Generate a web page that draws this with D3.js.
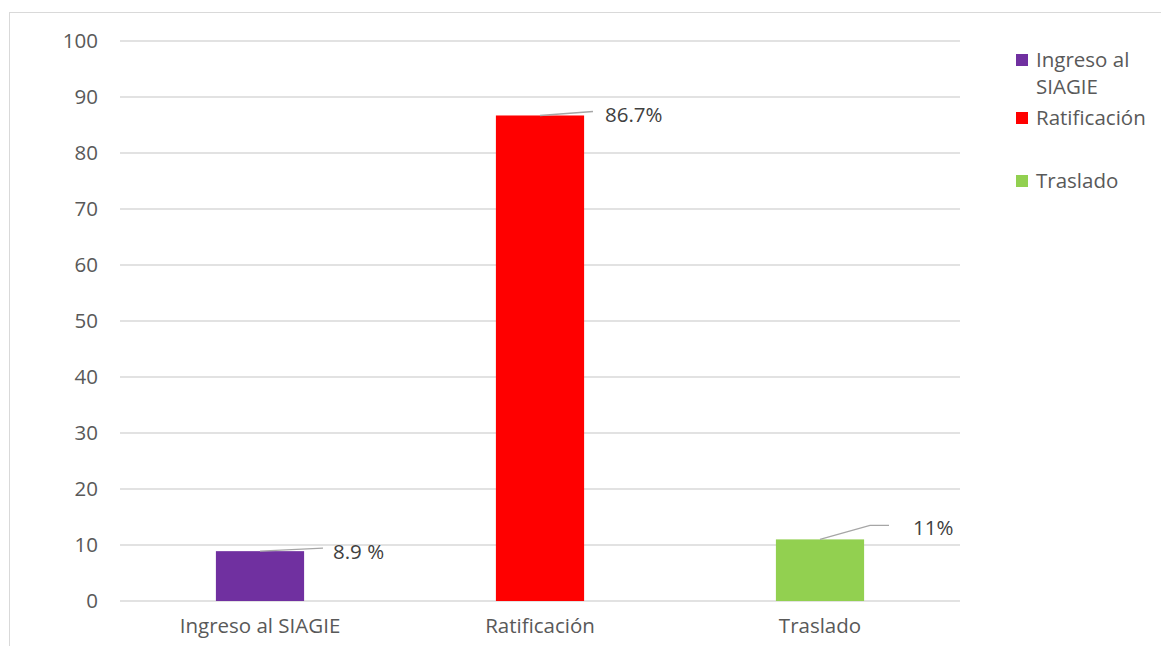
<!DOCTYPE html>
<html>
<head>
<meta charset="utf-8">
<script src="https://cdn.jsdelivr.net/npm/d3@7"></script>
<style>
  body { margin: 0; background: #fff; }
  text { font-family: "Open Sans", sans-serif; fill: #595959; }
</style>
</head>
<body>
<div id="chart"></div>
<script>

// chart data
var categories = ["Ingreso al SIAGIE", "Ratificación", "Traslado"];
var values = [8.9, 86.7, 11];
var labels = ["8.9 %", "86.7%", "11%"];
var colors = ["#7030a0", "#ff0000", "#92d050"];
var yTicks = [0, 10, 20, 30, 40, 50, 60, 70, 80, 90, 100];
var legendLines = [["Ingreso al", "SIAGIE"], ["Ratificación"], ["Traslado"]];

var W = 1161, H = 646;
var margin = {top: 41, left: 120, right: 201, bottom: 45};
var fs = "20.5px";

var svg = d3.select("#chart").append("svg")
  .attr("width", W)
  .attr("height", H);

// outer chart border (cropped at right and bottom)
svg.append("rect")
  .attr("x", 9.5).attr("y", 12.5)
  .attr("width", W + 10).attr("height", H + 10)
  .attr("fill", "none")
  .attr("stroke", "#d9d9d9");

var x = d3.scaleBand()
  .domain(categories)
  .range([margin.left, W - margin.right])
  .paddingInner(0.685)
  .paddingOuter(0.3425);

var y = d3.scaleLinear()
  .domain([0, 100])
  .range([601, margin.top]);

// gridlines
svg.append("g").selectAll("line")
  .data(yTicks)
  .enter().append("line")
  .attr("x1", margin.left).attr("x2", W - margin.right)
  .attr("y1", function(d) { return y(d); })
  .attr("y2", function(d) { return y(d); })
  .attr("stroke", "#d9d9d9")
  .attr("stroke-width", 1.3);

// y tick labels
svg.append("g").selectAll("text")
  .data(yTicks)
  .enter().append("text")
  .attr("x", 98)
  .attr("y", function(d) { return y(d); })
  .attr("dy", "0.35em")
  .attr("text-anchor", "end")
  .style("font-size", fs)
  .text(function(d) { return d; });

// bars
svg.append("g").selectAll("rect")
  .data(values)
  .enter().append("rect")
  .attr("x", function(d, i) { return x(categories[i]); })
  .attr("width", x.bandwidth())
  .attr("y", function(d) { return y(d); })
  .attr("height", function(d) { return y(0) - y(d); })
  .attr("fill", function(d, i) { return colors[i]; });

// x labels
svg.append("g").selectAll("text")
  .data(categories)
  .enter().append("text")
  .attr("x", function(d) { return x(d) + x.bandwidth() / 2; })
  .attr("y", 633)
  .attr("text-anchor", "middle")
  .style("font-size", fs)
  .text(function(d) { return d; });

// data labels with leader lines
var labelOffset = [{dx: 73, dy: 1, lx: 63, ly: -3, bend: 0},
                   {dx: 65, dy: -1, lx: 53, ly: -4, bend: 0},
                   {dx: 93, dy: -12, lx: 50, ly: -14, bend: 19}];

values.forEach(function(v, i) {
  var cx = x(categories[i]) + x.bandwidth() / 2;
  var cy = y(v);
  var o = labelOffset[i];
  var pts = [[cx, cy], [cx + o.lx, cy + o.ly]];
  if (o.bend) pts.push([cx + o.lx + o.bend, cy + o.ly]);
  svg.append("path")
    .attr("d", d3.line()(pts))
    .attr("fill", "none")
    .attr("stroke", "#a6a6a6")
    .attr("stroke-width", 1.3);
  svg.append("text")
    .attr("x", cx + o.dx)
    .attr("y", cy + o.dy)
    .attr("dy", "0.35em")
    .style("font-size", fs)
    .style("fill", "#404040")
    .text(labels[i]);
});

// legend
var legendY = [60, 118, 181];
legendLines.forEach(function(lines, i) {
  svg.append("rect")
    .attr("x", 1016).attr("y", legendY[i] - 6)
    .attr("width", 12).attr("height", 12)
    .attr("fill", colors[i]);
  lines.forEach(function(t, j) {
    svg.append("text")
      .attr("x", 1036)
      .attr("y", legendY[i] + j * 27)
      .attr("dy", "0.35em")
      .style("font-size", fs)
      .text(t);
  });
});

</script>
</body>
</html>
